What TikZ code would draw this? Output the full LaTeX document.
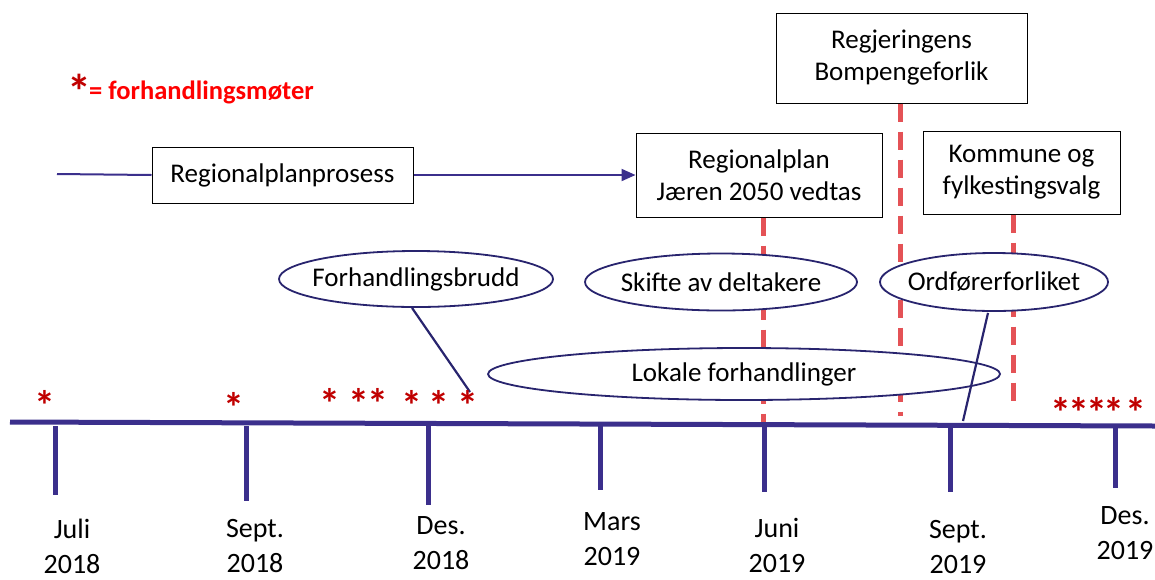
\documentclass[tikz,border=0pt]{standalone}
\usepackage{fontspec}
\setmainfont{Carlito}
\usetikzlibrary{shapes.geometric,arrows.meta}
\definecolor{tlblue}{RGB}{59,47,140}
\definecolor{elblue}{RGB}{40,36,110}
\definecolor{dashred}{RGB}{228,82,86}
\definecolor{starred}{RGB}{192,0,0}
\definecolor{legred}{RGB}{255,0,0}
\tikzset{
  txt/.style={font=\fontsize{27}{32}\selectfont, align=center, text=black},
  boxnode/.style={txt, draw=black, line width=1pt, fill=white, inner sep=0pt},
  ellnode/.style={ellipse, draw=elblue, line width=1.8pt, fill=white, inner sep=0pt,
    label={[txt, inner sep=0pt]center:#1}},
  reddash/.style={draw=dashred, line width=5pt, dash pattern=on 18pt off 10pt},
  tickline/.style={draw=tlblue, line width=5pt},
  conn/.style={draw=elblue, line width=2.2pt},
  starnode/.style={text=starred, font=\bfseries\fontsize{42}{42}\selectfont, inner sep=0pt, anchor=center},
  datelabel/.style={txt, font=\fontsize{28}{35}\selectfont, inner sep=0pt}
}
\begin{document}
\begin{tikzpicture}[x=1pt,y=-1pt]
\useasboundingbox (0,0) rectangle (1155,579);
% legend
\node[starnode, font=\bfseries\fontsize{48}{48}\selectfont] (legstar) at (79,91) {*};
\node[anchor=west, text=legred, font=\bfseries\fontsize{26.5}{30}\selectfont, inner sep=0pt] (legtxt) at (89,92) {= forhandlingsmøter};
% boxes
\node[boxnode, minimum width=261pt, minimum height=56pt] (rpp) at (282.5,175) {Regionalplanprosess};
\node[boxnode, minimum width=246pt, minimum height=84pt] (rp) at (759,175) {Regionalplan\\Jæren 2050 vedtas};
\node[boxnode, minimum width=251pt, minimum height=90pt] (bf) at (901.5,58) {Regjeringens\\Bompengeforlik};
\node[boxnode, minimum width=197pt, minimum height=83pt] (kv) at (1021.5,172.5) {Kommune og\\fylkestingsvalg};
% dashed red lines
\coordinate (d1) at (763,422);
\coordinate (d2) at (900,416);
\coordinate (d3) at (1013,410);
\draw[reddash] (rp.south -| d1) -- (d1);
\draw[reddash] (bf.south -| d2) -- (d2);
\draw[reddash] (kv.south -| d3) -- (d3);
% arrow line
\coordinate (st) at (57,174);
\draw[draw=tlblue, line width=2pt] (st) -- (rpp.west);
\draw[draw=tlblue, line width=2pt, -{Triangle[length=14pt,width=12pt]}] (rpp.east) -- (rp.west);
% ellipses
\node[ellnode={Forhandlingsbrudd}, minimum width=274pt, minimum height=56pt] (fb) at (416,279) {};
\node[ellnode={Skifte av deltakere}, minimum width=272pt, minimum height=57pt] (sd) at (721,282) {};
\node[ellnode={Ordførerforliket}, minimum width=228pt, minimum height=58pt] (of) at (994,282) {};
\node[ellnode={Lokale forhandlinger}, minimum width=512pt, minimum height=52pt] (lf) at (744,374) {};
% connectors
\coordinate (fbend) at (470,392);
\coordinate (ofend) at (963,421);
\draw[conn] (fb.south) ++(-4,0) coordinate (fbs) -- (fbend);
\draw[conn] (of.south) ++(-6,1) coordinate (ofs) -- (ofend);
% timeline
\coordinate (tl0) at (10,422);
\coordinate (tl1) at (1155,426);
\draw[draw=tlblue, line width=5pt] (tl0) -- (tl1);
% ticks
\foreach \x/\yb/\nm in {55/495/t1, 246/501/t2, 428/505/t3, 600/490/t4, 764/492/t5, 950/492/t6, 1115/488/t7}{
  \coordinate (\nm) at (\x,\yb);
  \draw[tickline] (\x,426) -- (\nm);
}
% date labels
\node[datelabel] (l1) at (72,546) {Juli\\2018};
\node[datelabel] (l2) at (255,546) {Sept.\\2018};
\node[datelabel] (l3) at (441,543) {Des.\\2018};
\node[datelabel] (l4) at (612,539) {Mars\\2019};
\node[datelabel] (l5) at (777,545) {Juni\\2019};
\node[datelabel] (l6) at (958,547) {Sept.\\2019};
\node[datelabel] (l7) at (1125,533) {Des.\\2019};
% stars
\foreach \x/\y/\nm in {45/405/s1, 234/407/s2, 330/403/s3, 359/403/s4, 378/403/s5, 412/405/s6, 439/405/s7, 468/405/s8, 1061/412/s9, 1079/412/s10, 1097/412/s11, 1114/412/s12, 1136/412/s13}{
  \node[starnode] (\nm) at (\x,\y) {*};
}
\end{tikzpicture}
\end{document}
